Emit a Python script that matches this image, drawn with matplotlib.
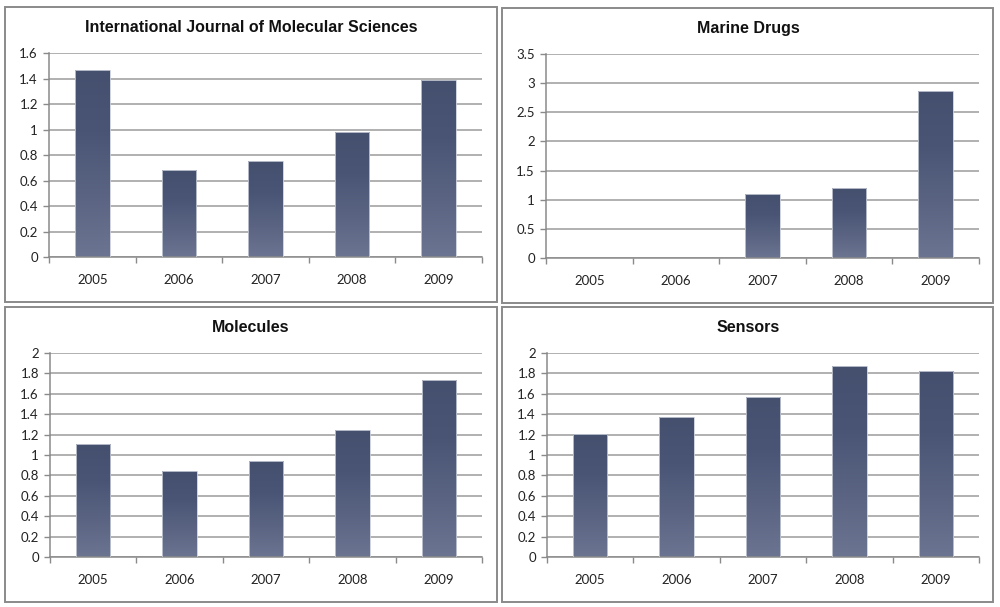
import numpy as np
import matplotlib
matplotlib.use('Agg')
import matplotlib.pyplot as plt
from matplotlib.patches import Rectangle
from matplotlib.colors import LinearSegmentedColormap

years = ['2005', '2006', '2007', '2008', '2009']

ijms = [1.47, 0.68, 0.75, 0.98, 1.39]
marine_drugs = [0, 0, 1.10, 1.20, 2.86]
molecules = [1.11, 0.84, 0.94, 1.25, 1.74]
sensors = [1.21, 1.37, 1.57, 1.87, 1.82]

titles = ['International Journal of Molecular Sciences', 'Marine Drugs',
          'Molecules', 'Sensors']
series = [ijms, marine_drugs, molecules, sensors]
y_max = [1.6, 3.5, 2.0, 2.0]
y_step = [0.2, 0.5, 0.2, 0.2]

# bar gradient: darker on top, lighter at the bottom
grad = LinearSegmentedColormap.from_list('bar', ['#6b7592', '#5a6482', '#4a5475', '#454f6e'])

fig = plt.figure(figsize=(10, 6.07), dpi=100)

# [axes rect, box rect, title position]
layout = [
    ([0.049, 0.5766, 0.433, 0.336], [0.005, 0.5025, 0.492, 0.486], (0.251, 0.955)),
    ([0.546, 0.575, 0.433, 0.336], [0.502, 0.5008, 0.491, 0.486], (0.748, 0.953)),
    ([0.050, 0.0824, 0.432, 0.336], [0.005, 0.0082, 0.492, 0.486], (0.251, 0.461)),
    ([0.547, 0.0824, 0.432, 0.336], [0.502, 0.0082, 0.491, 0.486], (0.748, 0.461)),
]

for (rect, box, tpos), title, vals, ym, ys in zip(layout, titles, series, y_max, y_step):
    fig.patches.append(Rectangle((box[0], box[1]), box[2], box[3],
                                 transform=fig.transFigure, fill=False,
                                 edgecolor='#8a8a8a', linewidth=1.4, zorder=0))
    fig.text(tpos[0], tpos[1], title, ha='center', va='center',
             fontsize=11.5, fontweight='bold', family='Liberation Sans', color='#111111')

    ax = fig.add_axes(rect)
    x = np.arange(len(years))
    bars = ax.bar(x, vals, width=0.4, color='none', edgecolor='#c8ccd8',
                  linewidth=0.6, zorder=3)
    for b in bars:
        h = b.get_height()
        if h <= 0:
            continue
        x0 = b.get_x()
        im = ax.imshow(np.linspace(0, 1, 100).reshape(-1, 1), cmap=grad,
                       extent=[x0, x0 + b.get_width(), 0, h], origin='lower',
                       aspect='auto', zorder=2)
        im.set_clip_path(b)

    ax.set_xlim(-0.5, len(years) - 0.5)
    ax.set_ylim(0, ym)
    ticks = np.round(np.arange(0, ym + ys / 2, ys), 2)
    ax.set_yticks(ticks)
    ax.set_yticklabels(['%g' % t for t in ticks])
    ax.set_xticks(x)
    ax.set_xticklabels(years)
    ax.set_xticks(np.arange(-0.5, len(years)), minor=True)
    ax.tick_params(axis='x', which='major', length=0, pad=12)
    ax.tick_params(axis='x', which='minor', length=4, direction='out',
                   color='#8a8a8a', width=1)
    ax.tick_params(axis='y', length=4, direction='out', color='#8a8a8a',
                   width=1, pad=4)
    for lab in ax.get_xticklabels() + ax.get_yticklabels():
        lab.set_family('Lato')
        lab.set_fontsize(9.5)
        lab.set_color('#222222')

    ax.grid(axis='y', color='#a3a3a3', linewidth=1.2, zorder=1)
    ax.set_axisbelow(True)
    for s in ['top', 'right']:
        ax.spines[s].set_visible(False)
    for s in ['left', 'bottom']:
        ax.spines[s].set_color('#8a8a8a')
        ax.spines[s].set_linewidth(1.1)

fig.savefig('out.png', dpi=100)
